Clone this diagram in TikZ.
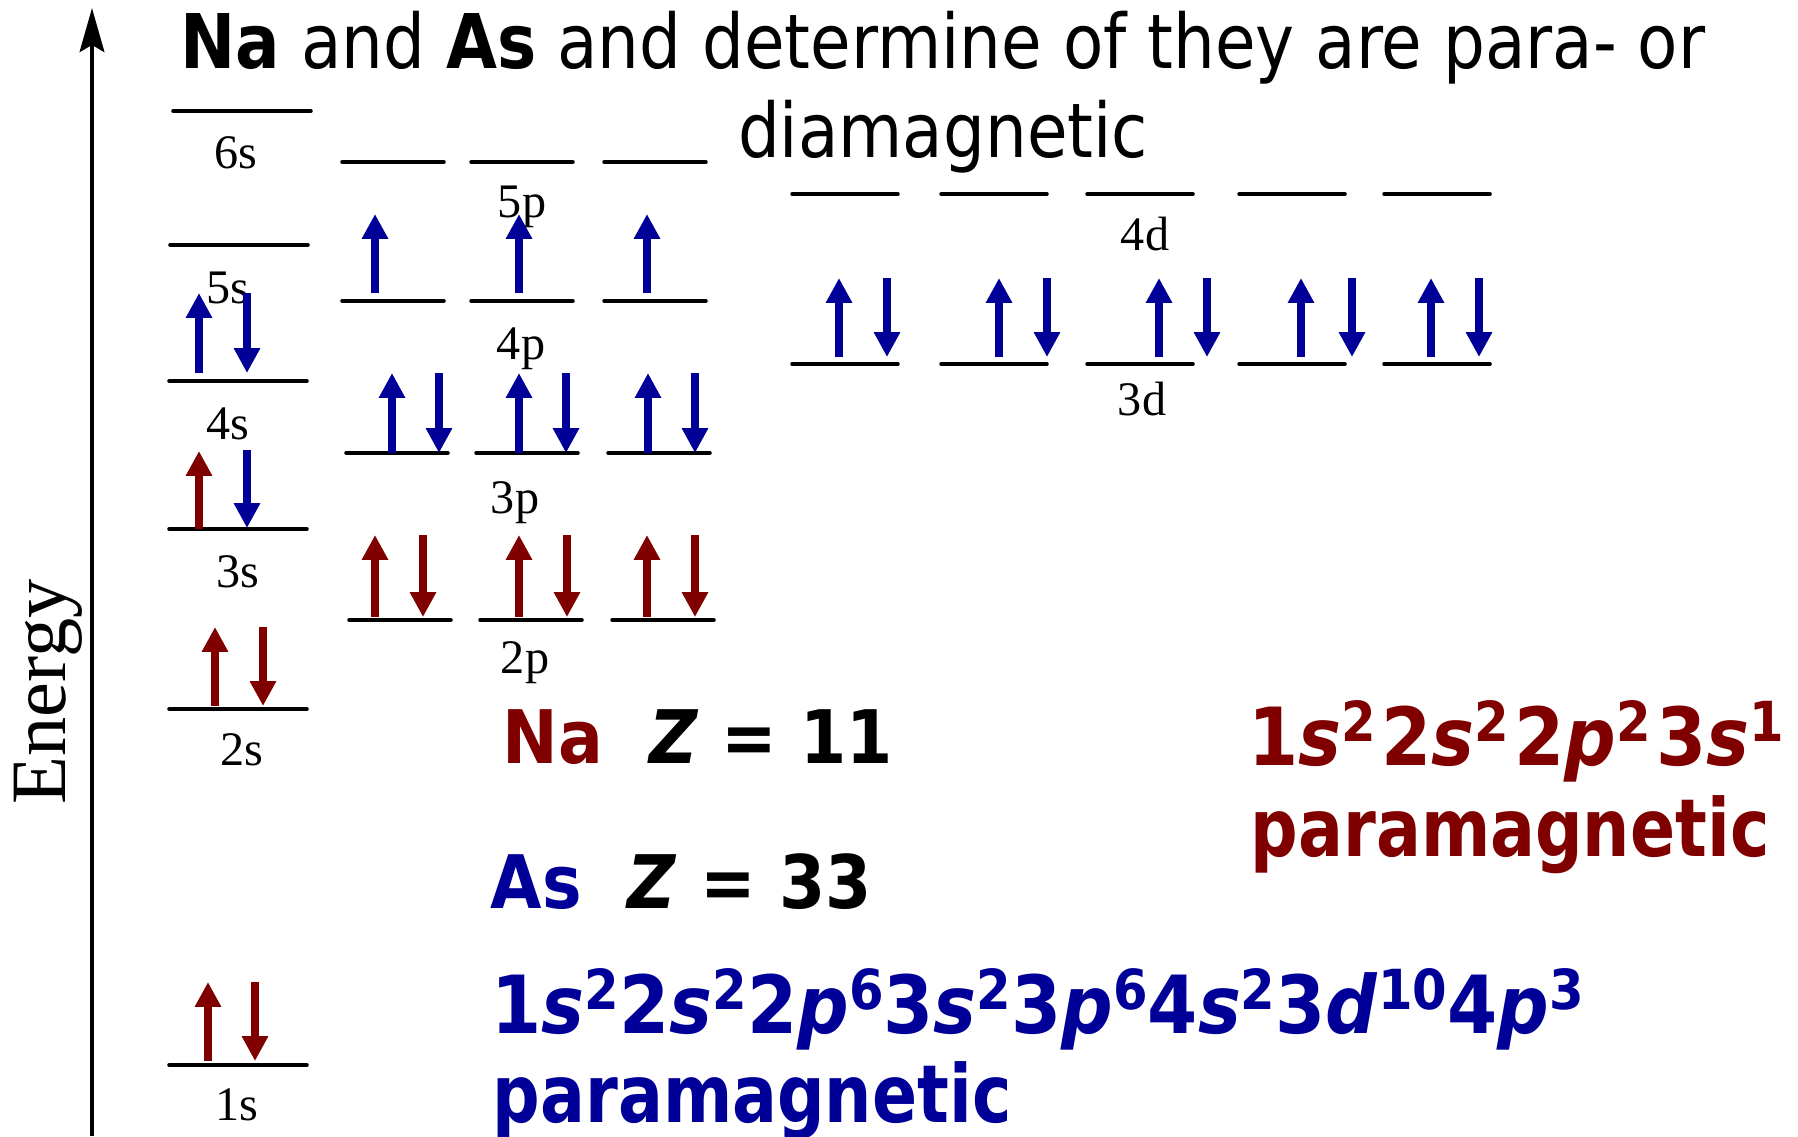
\documentclass[tikz,border=0pt]{standalone}
\usepackage{fontspec}
\setmainfont{Liberation Serif}
\newfontfamily\headfont[FakeStretch=0.874]{DejaVu Sans}
\newfontfamily\numfont[FakeStretch=0.9]{DejaVu Sans}
\newfontfamily\wordfont[FakeStretch=0.83]{DejaVu Sans}
\usetikzlibrary{arrows.meta}
\definecolor{NaRed}{RGB}{128,0,0}
\definecolor{AsBlue}{RGB}{0,0,153}
\newcommand{\occ}[1]{\raisebox{6.8pt}{\fontsize{15.7}{18}\selectfont #1}}

\begin{document}
\begin{tikzpicture}[x=0.01cm, y=-0.01cm,
    level/.style={line width=1pt, line cap=round},
    elec/.style={line width=2.3pt, -{Triangle[length=7.1pt, width=7.1pt]}},
    orb/.style={font=\fontsize{13.7}{16}\selectfont, inner sep=0pt, anchor=base},
    big/.style={font=\numfont\bfseries\fontsize{21}{25}\selectfont, inner sep=0pt, anchor=base west},
    cfg/.style={font=\numfont\bfseries\fontsize{22.8}{27}\selectfont, inner sep=0pt, anchor=base west},
    word/.style={font=\wordfont\bfseries\fontsize{22.8}{27}\selectfont, inner sep=0pt, anchor=base west}]
  \useasboundingbox (0,0) rectangle (1798,1136);

  % energy axis
  \coordinate (axisfoot) at (92,1136);
  \coordinate (axistop) at (92,8);
  \draw[line width=1.14pt, -{Stealth[length=12.5pt, width=7pt, inset=2pt]}] (axisfoot) -- (axistop);
  \node[rotate=90, anchor=base, inner sep=0pt, font=\fontsize{22.3}{26}\selectfont] (energy) at (65,692) {Energy};

  % levels
  \foreach \y/\x in {111/173, 245/170, 381/169, 529/169, 709/169, 1065/169}
    \draw[level] (\x,\y) -- ++(138,0);
  \foreach \y/\a/\b/\c in {162/342/471/604, 301/342/471/604, 453/346/476/608, 620/349/480/612}
    \foreach \x in {\a,\b,\c}
      \draw[level] (\x,\y) -- ++(102,0);
  \foreach \y in {194, 364}
    \foreach \x in {792, 941, 1087, 1239, 1384}
      \draw[level] (\x,\y) -- ++(106,0);

  % level names
  \foreach \t/\x/\y in {6s/236/168, 5s/228/303, 4s/228/439, 3s/238/587, 2s/242/765, 1s/237/1120,
                        5p/522/217, 4p/521/359, 3p/515/513, 2p/525/673, 4d/1145/250, 3d/1142/415}
    \node[orb] (l\t) at (\x,\y) {\t};

  % electrons
  \draw[elec, AsBlue] (199,373) -- (199,293);
  \draw[elec, AsBlue] (247,293) -- (247,373);
  \draw[elec, NaRed] (199,529) -- (199,451);
  \draw[elec, AsBlue] (247,450) -- (247,528);
  \foreach \x in {375, 519, 647}
    \draw[elec, AsBlue] (\x,293) -- (\x,214);
  \foreach \u/\d in {392/439, 519/566, 648/695} {
    \draw[elec, AsBlue] (\u,453) -- (\u,373);
    \draw[elec, AsBlue] (\d,373) -- (\d,453);
  }
  \foreach \u/\d in {839/887, 999/1047, 1159/1207, 1301/1352, 1431/1479} {
    \draw[elec, AsBlue] (\u,357) -- (\u,278);
    \draw[elec, AsBlue] (\d,278) -- (\d,357);
  }
  \foreach \u/\d/\b/\t in {215/263/706/627, 208/255/1061/982} {
    \draw[elec, NaRed] (\u,\b) -- (\u,\t);
    \draw[elec, NaRed] (\d,\t) -- (\d,\b);
  }
  \foreach \u/\d in {375/423, 519/567, 647/695} {
    \draw[elec, NaRed] (\u,617) -- (\u,535);
    \draw[elec, NaRed] (\d,535) -- (\d,617);
  }

  % texts
  \node[anchor=base, inner sep=0pt, font=\headfont\fontsize{21.45}{25}\selectfont] (title) at (943,68)
    {\textbf{Na} and \textbf{As} and determine of they are para- or};
  \node[anchor=base, inner sep=0pt, font=\headfont\fontsize{21.45}{25}\selectfont] (title2) at (943,157)
    {diamagnetic};
  \node[big] (na) at (502,763) {\textcolor{NaRed}{Na}\ \ \textit{Z} = 11};
  \node[big] (as) at (490,908) {\textcolor{AsBlue}{As}\ \ \textit{Z} = 33};
  \node[cfg, text=NaRed] (nacfg) at (1248,765)
    {1\textit{s}\occ{2}\hspace{1.5pt}2\textit{s}\occ{2}\hspace{1.5pt}2\textit{p}\occ{2}\hspace{1.5pt}3\textit{s}\occ{1}};
  \node[word, text=NaRed] (namag) at (1250,856) {paramagnetic};
  \node[cfg, text=AsBlue] (ascfg) at (491,1033)
    {1\textit{s}\occ{2}2\textit{s}\occ{2}2\textit{p}\occ{6}3\textit{s}\occ{2}3\textit{p}\occ{6}4\textit{s}\occ{2}3\textit{d}\occ{10}4\textit{p}\occ{3}};
  \node[word, text=AsBlue] (asmag) at (492,1122) {paramagnetic};
\end{tikzpicture}
\end{document}
